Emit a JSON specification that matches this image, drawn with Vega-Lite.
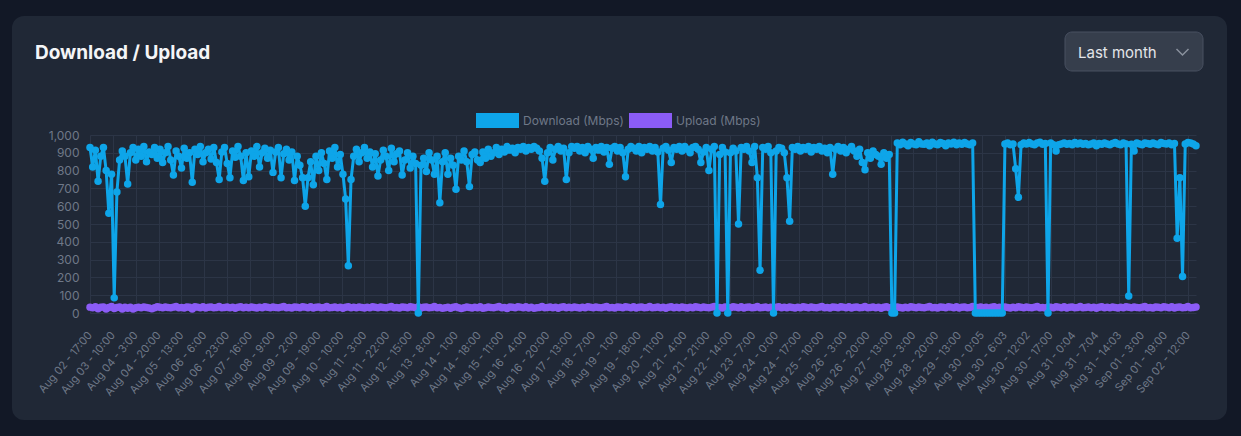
{
  "$schema": "https://vega.github.io/schema/vega-lite/v6.json",
  "width": 1106,
  "height": 178,
  "autosize": {"type": "none"},
  "padding": {"left": 90, "top": 135, "right": 45, "bottom": 123},
  "background": "#202836",
  "config": {
    "view": {"stroke": null},
    "font": "Inter",
    "axis": {
      "domain": false,
      "ticks": false,
      "grid": true,
      "gridColor": "#2c3546",
      "gridWidth": 1,
      "labelColor": "#6f7888",
      "labelFont": "Inter",
      "title": null
    },
    "axisX": {
      "labelAngle": -50,
      "labelAlign": "right",
      "labelBaseline": "middle",
      "labelFontSize": 11,
      "labelPadding": 20,
      "labelOverlap": false,
      "labelBound": false,
      "labelFlush": false
    },
    "axisY": {
      "labelFontSize": 12,
      "labelPadding": 11,
      "labelOverlap": false
    }
  },
  "data": {
    "values": [
      {"i":0,"d":930,"u":33},{"i":2,"d":820,"u":30},{"i":4,"d":915,"u":35},{"i":6,"d":740,"u":24},{"i":8,"d":880,"u":32},{"i":10,"d":930,"u":34},{"i":12,"d":800,"u":22},{"i":14,"d":560,"u":31},{"i":16,"d":780,"u":36},{"i":18,"d":85,"u":25},
      {"i":20,"d":680,"u":31},{"i":22,"d":860,"u":34},{"i":24,"d":910,"u":23},{"i":26,"d":880,"u":33},{"i":28,"d":725,"u":27},{"i":30,"d":900,"u":32},{"i":32,"d":930,"u":22},{"i":34,"d":860,"u":30},{"i":36,"d":920,"u":33},{"i":38,"d":880,"u":29},
      {"i":40,"d":935,"u":34},{"i":42,"d":850,"u":31},{"i":44,"d":905,"u":28},{"i":46,"d":890,"u":24},{"i":48,"d":930,"u":30},{"i":50,"d":870,"u":35},{"i":52,"d":920,"u":32},{"i":54,"d":845,"u":29},{"i":56,"d":900,"u":34},{"i":58,"d":935,"u":31},
      {"i":60,"d":860,"u":30},{"i":62,"d":775,"u":33},{"i":64,"d":910,"u":36},{"i":66,"d":880,"u":29},{"i":68,"d":815,"u":31},{"i":70,"d":925,"u":28},{"i":72,"d":870,"u":34},{"i":74,"d":900,"u":32},{"i":76,"d":735,"u":22},{"i":78,"d":920,"u":35},
      {"i":80,"d":890,"u":33},{"i":82,"d":935,"u":30},{"i":84,"d":850,"u":35},{"i":86,"d":900,"u":28},{"i":88,"d":920,"u":32},{"i":90,"d":865,"u":34},{"i":92,"d":930,"u":29},{"i":94,"d":845,"u":31},{"i":96,"d":750,"u":36},{"i":98,"d":905,"u":30},
      {"i":100,"d":930,"u":31},{"i":102,"d":840,"u":34},{"i":104,"d":760,"u":29},{"i":106,"d":910,"u":33},{"i":108,"d":875,"u":27},{"i":110,"d":935,"u":32},{"i":112,"d":880,"u":35},{"i":114,"d":745,"u":30},{"i":116,"d":900,"u":33},{"i":118,"d":765,"u":29},
      {"i":120,"d":910,"u":34},{"i":122,"d":880,"u":31},{"i":124,"d":935,"u":28},{"i":126,"d":820,"u":33},{"i":128,"d":900,"u":30},{"i":130,"d":925,"u":35},{"i":132,"d":870,"u":32},{"i":134,"d":915,"u":29},{"i":136,"d":790,"u":34},{"i":138,"d":905,"u":31},
      {"i":140,"d":930,"u":30},{"i":142,"d":760,"u":33},{"i":144,"d":895,"u":36},{"i":146,"d":920,"u":29},{"i":148,"d":860,"u":31},{"i":150,"d":905,"u":28},{"i":152,"d":745,"u":34},{"i":154,"d":880,"u":32},{"i":156,"d":830,"u":30},{"i":158,"d":760,"u":35},
      {"i":160,"d":600,"u":33},{"i":162,"d":760,"u":30},{"i":164,"d":850,"u":35},{"i":166,"d":720,"u":28},{"i":168,"d":880,"u":32},{"i":170,"d":800,"u":34},{"i":172,"d":900,"u":29},{"i":174,"d":840,"u":31},{"i":176,"d":750,"u":36},{"i":178,"d":910,"u":30},
      {"i":180,"d":870,"u":31},{"i":182,"d":930,"u":34},{"i":184,"d":820,"u":29},{"i":186,"d":890,"u":33},{"i":188,"d":780,"u":27},{"i":190,"d":640,"u":32},{"i":192,"d":265,"u":35},{"i":194,"d":750,"u":30},{"i":196,"d":880,"u":33},{"i":198,"d":920,"u":29},
      {"i":200,"d":850,"u":34},{"i":202,"d":900,"u":31},{"i":204,"d":930,"u":28},{"i":206,"d":870,"u":33},{"i":208,"d":905,"u":30},{"i":210,"d":820,"u":35},{"i":212,"d":895,"u":32},{"i":214,"d":770,"u":29},{"i":216,"d":860,"u":34},{"i":218,"d":915,"u":31},
      {"i":220,"d":880,"u":30},{"i":222,"d":800,"u":33},{"i":224,"d":925,"u":36},{"i":226,"d":850,"u":29},{"i":228,"d":895,"u":31},{"i":230,"d":910,"u":28},{"i":232,"d":775,"u":34},{"i":234,"d":860,"u":32},{"i":236,"d":900,"u":30},{"i":238,"d":815,"u":35},
      {"i":240,"d":880,"u":33},{"i":242,"d":840,"u":30},{"i":244,"d":0,"u":35},{"i":246,"d":830,"u":28},{"i":248,"d":870,"u":32},{"i":250,"d":795,"u":34},{"i":252,"d":900,"u":29},{"i":254,"d":860,"u":31},{"i":256,"d":780,"u":36},{"i":258,"d":880,"u":30},
      {"i":260,"d":620,"u":31},{"i":262,"d":850,"u":26},{"i":264,"d":900,"u":29},{"i":266,"d":780,"u":33},{"i":268,"d":870,"u":27},{"i":270,"d":830,"u":32},{"i":272,"d":695,"u":35},{"i":274,"d":880,"u":30},{"i":276,"d":860,"u":25},{"i":278,"d":910,"u":29},
      {"i":280,"d":850,"u":34},{"i":282,"d":710,"u":31},{"i":284,"d":890,"u":28},{"i":286,"d":905,"u":33},{"i":288,"d":860,"u":30},{"i":290,"d":845,"u":35},{"i":292,"d":905,"u":26},{"i":294,"d":870,"u":29},{"i":296,"d":920,"u":34},{"i":298,"d":880,"u":31},
      {"i":300,"d":900,"u":30},{"i":302,"d":930,"u":33},{"i":304,"d":890,"u":36},{"i":306,"d":920,"u":29},{"i":308,"d":905,"u":31},{"i":310,"d":935,"u":25},{"i":312,"d":915,"u":34},{"i":314,"d":925,"u":32},{"i":316,"d":900,"u":30},{"i":318,"d":930,"u":35},
      {"i":320,"d":920,"u":33},{"i":322,"d":935,"u":30},{"i":324,"d":910,"u":35},{"i":326,"d":930,"u":28},{"i":328,"d":920,"u":32},{"i":330,"d":935,"u":26},{"i":332,"d":925,"u":29},{"i":334,"d":910,"u":31},{"i":336,"d":870,"u":36},{"i":338,"d":740,"u":30},
      {"i":340,"d":900,"u":31},{"i":342,"d":930,"u":34},{"i":344,"d":860,"u":29},{"i":346,"d":920,"u":33},{"i":348,"d":935,"u":27},{"i":350,"d":910,"u":32},{"i":352,"d":925,"u":35},{"i":354,"d":750,"u":30},{"i":356,"d":900,"u":33},{"i":358,"d":935,"u":29},
      {"i":360,"d":925,"u":34},{"i":362,"d":935,"u":31},{"i":364,"d":910,"u":28},{"i":366,"d":930,"u":33},{"i":368,"d":900,"u":30},{"i":370,"d":935,"u":35},{"i":372,"d":920,"u":32},{"i":374,"d":870,"u":29},{"i":376,"d":930,"u":34},{"i":378,"d":915,"u":31},
      {"i":380,"d":935,"u":30},{"i":382,"d":905,"u":33},{"i":384,"d":930,"u":36},{"i":386,"d":835,"u":29},{"i":388,"d":925,"u":31},{"i":390,"d":935,"u":28},{"i":392,"d":910,"u":34},{"i":394,"d":930,"u":32},{"i":396,"d":900,"u":30},{"i":398,"d":765,"u":35},
      {"i":400,"d":920,"u":33},{"i":402,"d":935,"u":30},{"i":404,"d":925,"u":35},{"i":406,"d":910,"u":28},{"i":408,"d":935,"u":32},{"i":410,"d":900,"u":34},{"i":412,"d":930,"u":29},{"i":414,"d":920,"u":31},{"i":416,"d":935,"u":36},{"i":418,"d":910,"u":30},
      {"i":420,"d":930,"u":31},{"i":422,"d":905,"u":34},{"i":424,"d":610,"u":29},{"i":426,"d":925,"u":33},{"i":428,"d":935,"u":27},{"i":430,"d":915,"u":32},{"i":432,"d":845,"u":35},{"i":434,"d":930,"u":30},{"i":436,"d":920,"u":33},{"i":438,"d":935,"u":29},
      {"i":440,"d":910,"u":34},{"i":442,"d":935,"u":31},{"i":444,"d":920,"u":28},{"i":446,"d":900,"u":33},{"i":448,"d":930,"u":30},{"i":450,"d":935,"u":35},{"i":452,"d":920,"u":32},{"i":454,"d":845,"u":29},{"i":456,"d":905,"u":34},{"i":458,"d":930,"u":31},
      {"i":460,"d":800,"u":30},{"i":462,"d":920,"u":33},{"i":464,"d":935,"u":36},{"i":466,"d":0,"u":29},{"i":468,"d":890,"u":31},{"i":470,"d":930,"u":28},{"i":472,"d":905,"u":34},{"i":474,"d":0,"u":32},{"i":476,"d":900,"u":30},{"i":478,"d":925,"u":35},
      {"i":480,"d":910,"u":33},{"i":482,"d":500,"u":30},{"i":484,"d":930,"u":35},{"i":486,"d":920,"u":28},{"i":488,"d":935,"u":32},{"i":490,"d":910,"u":34},{"i":492,"d":845,"u":29},{"i":494,"d":935,"u":31},{"i":496,"d":760,"u":36},{"i":498,"d":240,"u":30},
      {"i":500,"d":930,"u":31},{"i":502,"d":920,"u":34},{"i":504,"d":935,"u":29},{"i":506,"d":900,"u":33},{"i":508,"d":0,"u":27},{"i":510,"d":910,"u":32},{"i":512,"d":930,"u":35},{"i":514,"d":925,"u":30},{"i":516,"d":900,"u":33},{"i":518,"d":760,"u":29},
      {"i":520,"d":515,"u":34},{"i":522,"d":930,"u":31},{"i":524,"d":920,"u":28},{"i":526,"d":935,"u":33},{"i":528,"d":910,"u":30},{"i":530,"d":930,"u":35},{"i":532,"d":920,"u":32},{"i":534,"d":935,"u":29},{"i":536,"d":905,"u":34},{"i":538,"d":930,"u":31},
      {"i":540,"d":920,"u":30},{"i":542,"d":935,"u":33},{"i":544,"d":910,"u":36},{"i":546,"d":925,"u":29},{"i":548,"d":900,"u":31},{"i":550,"d":930,"u":28},{"i":552,"d":780,"u":34},{"i":554,"d":920,"u":32},{"i":556,"d":935,"u":30},{"i":558,"d":910,"u":35},
      {"i":560,"d":930,"u":33},{"i":562,"d":900,"u":30},{"i":564,"d":920,"u":35},{"i":566,"d":935,"u":28},{"i":568,"d":910,"u":32},{"i":570,"d":880,"u":34},{"i":572,"d":920,"u":29},{"i":574,"d":845,"u":31},{"i":576,"d":805,"u":36},{"i":578,"d":900,"u":30},
      {"i":580,"d":870,"u":31},{"i":582,"d":910,"u":34},{"i":584,"d":890,"u":29},{"i":586,"d":880,"u":33},{"i":588,"d":835,"u":27},{"i":590,"d":900,"u":32},{"i":592,"d":870,"u":35},{"i":594,"d":890,"u":30},{"i":596,"d":0,"u":33},{"i":598,"d":0,"u":29},
      {"i":600,"d":955,"u":34},{"i":602,"d":945,"u":31},{"i":604,"d":960,"u":28},{"i":606,"d":950,"u":33},{"i":608,"d":940,"u":30},{"i":610,"d":958,"u":35},{"i":612,"d":950,"u":32},{"i":614,"d":945,"u":29},{"i":616,"d":962,"u":34},{"i":618,"d":950,"u":31},
      {"i":620,"d":948,"u":30},{"i":622,"d":955,"u":33},{"i":624,"d":940,"u":36},{"i":626,"d":960,"u":29},{"i":628,"d":950,"u":31},{"i":630,"d":945,"u":28},{"i":632,"d":958,"u":34},{"i":634,"d":952,"u":32},{"i":636,"d":940,"u":30},{"i":638,"d":955,"u":35},
      {"i":640,"d":950,"u":33},{"i":642,"d":960,"u":30},{"i":644,"d":945,"u":35},{"i":646,"d":955,"u":28},{"i":648,"d":948,"u":32},{"i":650,"d":958,"u":34},{"i":652,"d":950,"u":29},{"i":654,"d":945,"u":31},{"i":656,"d":955,"u":36},{"i":658,"d":0,"u":30},
      {"i":660,"d":0,"u":31},{"i":662,"d":0,"u":34},{"i":664,"d":0,"u":29},{"i":666,"d":0,"u":33},{"i":668,"d":0,"u":27},{"i":670,"d":0,"u":32},{"i":672,"d":0,"u":35},{"i":674,"d":0,"u":30},{"i":676,"d":0,"u":33},{"i":678,"d":0,"u":29},
      {"i":680,"d":950,"u":34},{"i":682,"d":955,"u":31},{"i":684,"d":945,"u":28},{"i":686,"d":950,"u":33},{"i":688,"d":810,"u":30},{"i":690,"d":650,"u":35},{"i":692,"d":945,"u":32},{"i":694,"d":955,"u":29},{"i":696,"d":950,"u":34},{"i":698,"d":958,"u":31},
      {"i":700,"d":950,"u":30},{"i":702,"d":945,"u":33},{"i":704,"d":955,"u":36},{"i":706,"d":960,"u":29},{"i":708,"d":948,"u":31},{"i":710,"d":952,"u":28},{"i":712,"d":0,"u":34},{"i":714,"d":955,"u":32},{"i":716,"d":945,"u":30},{"i":718,"d":910,"u":35},
      {"i":720,"d":945,"u":33},{"i":722,"d":950,"u":30},{"i":724,"d":955,"u":35},{"i":726,"d":948,"u":28},{"i":728,"d":952,"u":32},{"i":730,"d":945,"u":34},{"i":732,"d":958,"u":29},{"i":734,"d":950,"u":31},{"i":736,"d":955,"u":36},{"i":738,"d":948,"u":30},
      {"i":740,"d":952,"u":31},{"i":742,"d":945,"u":34},{"i":744,"d":950,"u":29},{"i":746,"d":955,"u":33},{"i":748,"d":940,"u":27},{"i":750,"d":952,"u":32},{"i":752,"d":948,"u":35},{"i":754,"d":955,"u":30},{"i":756,"d":950,"u":33},{"i":758,"d":945,"u":29},
      {"i":760,"d":952,"u":34},{"i":762,"d":958,"u":31},{"i":764,"d":950,"u":28},{"i":766,"d":945,"u":33},{"i":768,"d":955,"u":30},{"i":770,"d":950,"u":35},{"i":772,"d":95,"u":32},{"i":774,"d":948,"u":29},{"i":776,"d":910,"u":34},{"i":778,"d":955,"u":31},
      {"i":780,"d":950,"u":30},{"i":782,"d":945,"u":33},{"i":784,"d":955,"u":36},{"i":786,"d":952,"u":29},{"i":788,"d":948,"u":31},{"i":790,"d":955,"u":28},{"i":792,"d":950,"u":34},{"i":794,"d":945,"u":32},{"i":796,"d":958,"u":30},{"i":798,"d":952,"u":35},
      {"i":800,"d":950,"u":33},{"i":802,"d":955,"u":30},{"i":804,"d":945,"u":35},{"i":806,"d":952,"u":28},{"i":808,"d":420,"u":32},{"i":810,"d":760,"u":34},{"i":812,"d":205,"u":29},{"i":814,"d":950,"u":31},{"i":816,"d":958,"u":36},{"i":818,"d":955,"u":30},
      {"i":820,"d":950,"u":31},{"i":822,"d":940,"u":34}
    ]
  },
  "encoding": {
    "x": {
      "field": "i",
      "type": "quantitative",
      "scale": {"domain": [0, 822], "nice": false, "zero": false},
      "axis": {
        "values": [0,17,34,51,68,85,102,119,136,153,170,187,204,221,238,255,272,289,306,323,340,357,374,391,408,425,442,459,476,493,510,527,544,561,578,595,612,629,646,663,680,697,714,731,748,765,782,799,816],
        "labelExpr": "['Aug 02 - 17:00','Aug 03 - 10:00','Aug 04 - 3:00','Aug 04 - 20:00','Aug 05 - 13:00','Aug 06 - 6:00','Aug 06 - 23:00','Aug 07 - 16:00','Aug 08 - 9:00','Aug 09 - 2:00','Aug 09 - 19:00','Aug 10 - 10:00','Aug 11 - 3:00','Aug 11 - 22:00','Aug 12 - 15:00','Aug 13 - 8:00','Aug 14 - 1:00','Aug 14 - 18:00','Aug 15 - 11:00','Aug 16 - 4:00','Aug 16 - 20:00','Aug 17 - 13:00','Aug 18 - 7:00','Aug 19 - 1:00','Aug 19 - 18:00','Aug 20 - 11:00','Aug 21 - 4:00','Aug 21 - 21:00','Aug 22 - 14:00','Aug 23 - 7:00','Aug 24 - 0:00','Aug 24 - 17:00','Aug 25 - 10:00','Aug 26 - 3:00','Aug 26 - 20:00','Aug 27 - 13:00','Aug 28 - 3:00','Aug 28 - 20:00','Aug 29 - 13:00','Aug 30 - 0:05','Aug 30 - 6:03','Aug 30 - 12:02','Aug 30 - 17:00','Aug 31 - 0:04','Aug 31 - 7:04','Aug 31 - 14:03','Sep 01 - 3:00','Sep 01 - 19:00','Sep 02 - 12:00'][round(datum.value / 17)]"
      }
    }
  },
  "layer": [
    {
      "description": "Page margin around the rounded card",
      "data": {"values": [{}]},
      "mark": {"type": "rect", "x": -98, "x2": 1157, "y": -139, "y2": 305, "cornerRadius": 32, "fill": "transparent", "stroke": "#121826", "strokeWidth": 40},
      "encoding": {"x": null}
    },
    {
      "description": "Header divider",
      "data": {"values": [{}]},
      "mark": {"type": "rule", "x": -55, "x2": 1113, "y": -47, "y2": -47, "stroke": "#394252", "strokeWidth": 1},
      "encoding": {"x": null}
    },
    {
      "data": {"values": [{}]},
      "mark": {"type": "text", "x": -55, "y": -76, "text": "Download / Upload", "align": "left", "baseline": "alphabetic", "font": "Inter", "fontSize": 19, "fontWeight": 700, "fill": "#f4f5f7"},
      "encoding": {"x": null}
    },
    {
      "description": "Range selector",
      "data": {"values": [{}]},
      "mark": {"type": "rect", "x": 975, "x2": 1113, "y": -103, "y2": -64, "cornerRadius": 7, "fill": "#363e4c", "stroke": "#485061", "strokeWidth": 1},
      "encoding": {"x": null}
    },
    {
      "data": {"values": [{}]},
      "mark": {"type": "text", "x": 988, "y": -77, "text": "Last month", "align": "left", "baseline": "alphabetic", "font": "Inter", "fontSize": 15, "fill": "#e3e5e9"},
      "encoding": {"x": null}
    },
    {
      "data": {"values": [{}]},
      "mark": {"type": "point", "x": 1092.5, "y": -83, "shape": "M-1,-0.5L0,0.5L1,-0.5", "size": 144, "filled": false, "stroke": "#8a919d", "strokeWidth": 1.5, "opacity": 1},
      "encoding": {"x": null}
    },
    {
      "mark": {"type": "line", "strokeWidth": 3, "strokeJoin": "round", "point": {"filled": true, "size": 56, "opacity": 1}},
      "encoding": {
        "y": {
          "field": "u",
          "type": "quantitative",
          "scale": {"domain": [0, 1000], "nice": false},
          "axis": {"values": [0,100,200,300,400,500,600,700,800,900,1000], "format": ",.0f"}
        },
        "color": {
          "datum": "Upload (Mbps)",
          "scale": {"domain": ["Download (Mbps)", "Upload (Mbps)"], "range": ["#0ea5e9", "#8b5cf6"]},
          "legend": {
            "orient": "none",
            "legendX": 400,
            "legendY": -22,
            "direction": "horizontal",
            "title": null,
            "symbolType": "M-2.867,-1H2.867V1H-2.867Z",
            "symbolSize": 225,
            "symbolStrokeWidth": 0,
            "symbolOpacity": 1,
            "labelColor": "#6f7888",
            "labelFont": "Inter",
            "labelFontSize": 12,
            "labelOffset": 18,
            "columnPadding": 4,
            "encode": {"symbols": {"update": {"fill": {"scale": "color", "field": "value"}, "fillOpacity": {"value": 1}}}}
          }
        }
      }
    },
    {
      "mark": {"type": "line", "strokeWidth": 3, "strokeJoin": "round", "point": {"filled": true, "size": 56, "opacity": 1}},
      "encoding": {
        "y": {
          "field": "d",
          "type": "quantitative",
          "scale": {"domain": [0, 1000], "nice": false},
          "axis": {"values": [0,100,200,300,400,500,600,700,800,900,1000], "format": ",.0f"}
        },
        "color": {"datum": "Download (Mbps)"}
      }
    }
  ]
}
